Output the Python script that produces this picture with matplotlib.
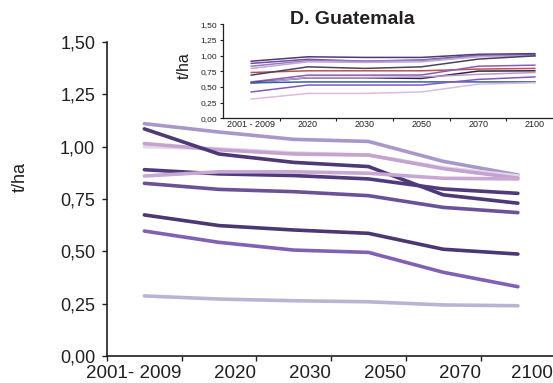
import matplotlib
matplotlib.use("Agg")
import matplotlib.pyplot as plt
import numpy as np

plt.rcParams['font.family'] = ['Liberation Sans', 'DejaVu Sans']

periods = ['2001- 2009', '2020', '2030', '2050', '2070', '2100']
inset_periods = ['2001 - 2009', '2020', '2030', '2050', '2070', '2100']
yticks = [0, 0.25, 0.5, 0.75, 1.0, 1.25, 1.5]

# main panel: yield series (t/ha)
main_series = [
    [1.11, 1.07, 1.035, 1.025, 0.93, 0.865],
    [1.00, 0.99, 0.97, 0.96, 0.90, 0.86],
    [1.015, 0.985, 0.965, 0.96, 0.895, 0.85],
    [1.085, 0.965, 0.925, 0.905, 0.77, 0.73],
    [0.89, 0.87, 0.862, 0.846, 0.798, 0.777],
    [0.86, 0.88, 0.88, 0.873, 0.849, 0.846],
    [0.825, 0.796, 0.785, 0.766, 0.71, 0.685],
    [0.674, 0.623, 0.602, 0.586, 0.51, 0.487],
    [0.597, 0.543, 0.506, 0.495, 0.40, 0.331],
    [0.287, 0.272, 0.264, 0.259, 0.244, 0.24],
]
main_colors = ['#a898c8', '#e4d8ec', '#c6a3ce', '#4d3878', '#4f3a7c',
               '#c9a7d3', '#6a5296', '#4b3772', '#7f62b3', '#bab3d4']

# inset panel series
inset_series = [
    [0.91, 0.98, 0.97, 0.97, 1.02, 1.03],
    [0.875, 0.94, 0.91, 0.93, 1.005, 1.015],
    [0.83, 0.92, 0.91, 0.92, 0.99, 1.00],
    [0.795, 0.90, 0.89, 0.90, 0.98, 0.99],
    [0.73, 0.757, 0.757, 0.757, 0.784, 0.795],
    [0.688, 0.82, 0.795, 0.82, 0.943, 0.995],
    [0.58, 0.688, 0.688, 0.69, 0.83, 0.847],
    [0.566, 0.646, 0.646, 0.635, 0.752, 0.757],
    [0.556, 0.65, 0.65, 0.66, 0.70, 0.73],
    [0.566, 0.58, 0.58, 0.58, 0.58, 0.58],
    [0.42, 0.53, 0.53, 0.53, 0.62, 0.66],
    [0.307, 0.397, 0.397, 0.42, 0.545, 0.566],
]
inset_colors = ['#4b3a78', '#6f4f9e', '#9a7cc0', '#c0a8d8', '#c0504d', '#4a4458',
                '#8a5cb8', '#2e2440', '#b89ad0', '#3060a8', '#8858b8', '#dcbcdc']

txt = '#231f20'
fig = plt.figure(figsize=(5.53, 3.83), dpi=100)

ax = fig.add_axes([0.1935, 0.0705, 0.8065, 0.8198])
x = np.arange(len(periods))
for vals, c in zip(main_series, main_colors):
    ax.plot(x, vals, color=c, lw=2.6, solid_capstyle='round', solid_joinstyle='round')
ax.set_xlim(-0.5, 5.47)
ax.set_ylim(0, 1.5)
ax.set_yticks(yticks)
ax.set_yticklabels([f'{v:.2f}'.replace('.', ',') for v in yticks], fontsize=13, color=txt)
ax.set_xticks(np.arange(-0.5, 5.0, 1.0))
ax.set_xticklabels([])
label_pos = [0.5, 1.5, 2.5, 3.5, 4.5, 5.47]
for xp, lab in zip(label_pos, periods):
    ax.text(xp, -0.028, lab, ha='right', va='top', fontsize=13.5, color=txt,
            transform=ax.get_xaxis_transform(), clip_on=False)
ax.tick_params(axis='both', length=3.5, width=1, color=txt, pad=5)
for s in ['top', 'right']:
    ax.spines[s].set_visible(False)
for s in ['left', 'bottom']:
    ax.spines[s].set_color(txt)
    ax.spines[s].set_linewidth(1.2)
fig.text(20 / 553, 1 - 177 / 383, 't/ha', rotation=90, ha='center', va='center',
         fontsize=13, color=txt)

# inset
ins = fig.add_axes([0.403, 0.691, 0.597, 0.246])
ins.set_facecolor('white')
for vals, c in zip(inset_series, inset_colors):
    ins.plot(x, vals, color=c, lw=1.1)
ins.set_xlim(-0.5, 5.32)
ins.set_ylim(0, 1.5)
ins.set_yticks(yticks)
ins.set_yticklabels([f'{v:.2f}'.replace('.', ',') for v in yticks], fontsize=6, color=txt)
ins.set_xticks(np.arange(0.5, 5.0, 1.0))
ins.set_xticklabels([])
ins.set_xticks(x, minor=True)
ins.set_xticklabels(inset_periods, minor=True, fontsize=6.5, color=txt)
ins.tick_params(axis='x', which='minor', length=0, pad=1.5)
ins.tick_params(axis='both', which='major', length=2.5, width=0.8, color=txt, pad=1.5)
for s in ['top', 'right']:
    ins.spines[s].set_visible(False)
for s in ['left', 'bottom']:
    ins.spines[s].set_color(txt)
    ins.spines[s].set_linewidth(0.9)
fig.text(184 / 553, 1 - 66 / 383, 't/ha', rotation=90, ha='center', va='center',
         fontsize=11.5, color=txt)
fig.text(352 / 553, 1 - 20 / 383, 'D. Guatemala', ha='center', va='center',
         fontsize=14, fontweight='bold', color=txt)

fig.savefig('out.png', dpi=100)
